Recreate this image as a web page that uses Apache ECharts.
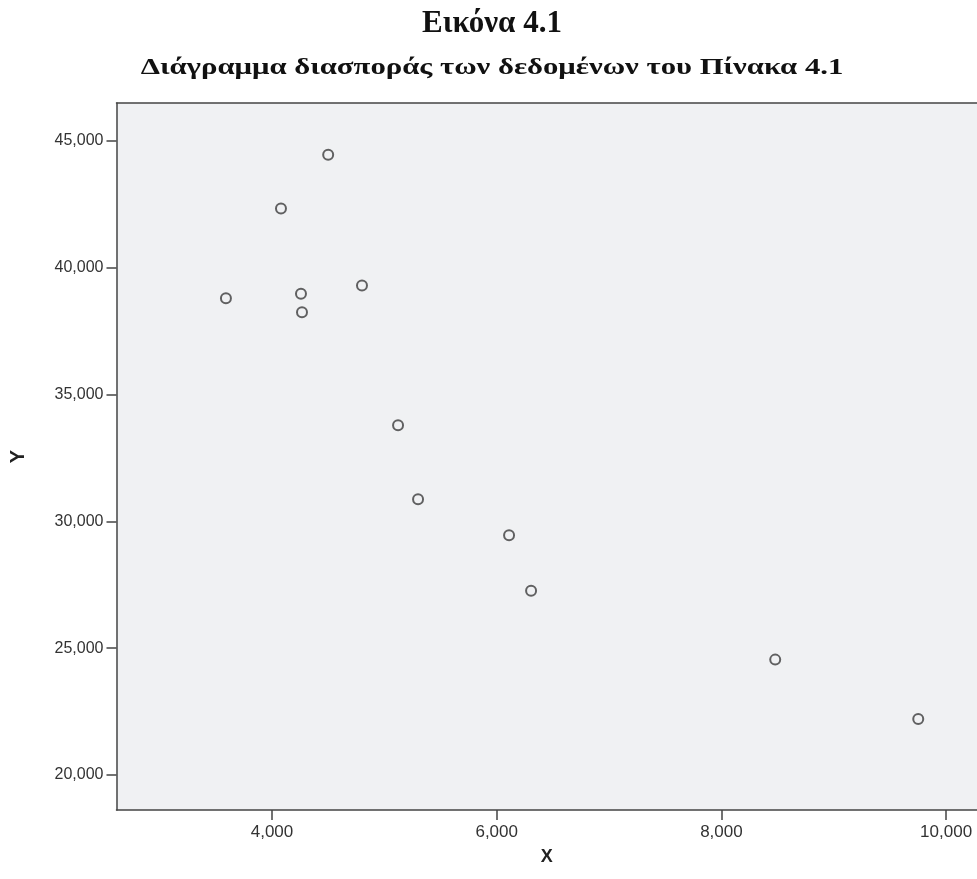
<!DOCTYPE html>
<html>
<head>
<meta charset="utf-8">
<script src="https://cdn.jsdelivr.net/npm/echarts@6/dist/echarts.min.js"></script>
<style>
html,body{margin:0;padding:0;background:#fff;overflow:hidden;}
#main{width:977px;height:879px;}
</style>
</head>
<body>
<div id="main"></div>
<script>
const titleText = "Εικόνα 4.1";
const subtitleText = "Διάγραμμα διασποράς των δεδομένων του Πίνακα 4.1";
const xName = "X";
const yName = "Y";
const xValues = [3590, 4080, 4500, 4258, 4267, 4801, 5122, 5300, 6110, 6306, 8479, 9752];
const yValues = [38800, 42340, 44460, 38980, 38250, 39300, 33790, 30870, 29450, 27270, 24550, 22210];
const xTicks = [4000, 6000, 8000, 10000];
const yTicks = [20000, 25000, 30000, 35000, 40000, 45000];

const fmt = v => Number(v).toLocaleString('en-US');
const points = xValues.map((x, i) => [x, yValues[i]]);
const xMin = 2616, xMax = 10275, yMin = 18620, yMax = 46500;

const chart = echarts.init(document.getElementById('main'));
chart.setOption({
  animation: false,
  backgroundColor: '#ffffff',
  graphic: [
    {type: 'text', x: 492, y: 24, silent: true,
     style: {text: titleText, font: 'bold 31px "Liberation Serif"', fill: '#111',
             textAlign: 'center', textVerticalAlign: 'middle'}},
    {type: 'text', x: 492, y: 68, scaleX: 1.28, silent: true,
     style: {text: subtitleText, font: 'bold 24px "Liberation Serif"', fill: '#111',
             textAlign: 'center', textVerticalAlign: 'middle'}}
  ],
  grid: {left: 116.5, top: 103, right: 0, height: 707, show: true,
         backgroundColor: '#f0f1f3', borderWidth: 0},
  xAxis: [{
    type: 'value', min: xMin, max: xMax,
    name: xName, nameLocation: 'middle', nameGap: 38,
    nameTextStyle: {fontFamily: 'Liberation Sans', fontSize: 18, color: '#222', fontWeight: 'bold'},
    splitLine: {show: false},
    axisLine: {show: true, lineStyle: {color: '#444', width: 1.5}},
    axisTick: {show: true, customValues: xTicks, length: 10, inside: false, lineStyle: {color: '#444', width: 1.5}},
    axisLabel: {customValues: xTicks, formatter: fmt, margin: 14,
                fontFamily: 'Liberation Sans', fontSize: 17, color: '#333'}
  }, {
    type: 'value', position: 'top', min: xMin, max: xMax,
    splitLine: {show: false},
    axisLine: {show: true, lineStyle: {color: '#444', width: 1.5}},
    axisTick: {show: false}, axisLabel: {show: false}
  }],
  yAxis: {
    type: 'value', min: yMin, max: yMax,
    name: yName, nameLocation: 'middle', nameGap: 88, nameRotate: 90,
    nameTextStyle: {fontFamily: 'Liberation Sans', fontSize: 20, color: '#222', fontWeight: 'bold'},
    splitLine: {show: false},
    axisLine: {show: true, lineStyle: {color: '#444', width: 1.5}},
    axisTick: {show: true, customValues: yTicks, length: 10, inside: false, lineStyle: {color: '#444', width: 1.5}},
    axisLabel: {customValues: yTicks, formatter: fmt, margin: 13,
                fontFamily: 'Liberation Sans', fontSize: 16, color: '#333'}
  },
  series: [{
    type: 'scatter',
    xAxisIndex: 0,
    data: points,
    symbol: 'circle',
    symbolSize: 10,
    itemStyle: {color: 'rgba(0,0,0,0)', borderColor: '#3c3c3c', borderWidth: 2}
  }]
});
</script>
</body>
</html>
